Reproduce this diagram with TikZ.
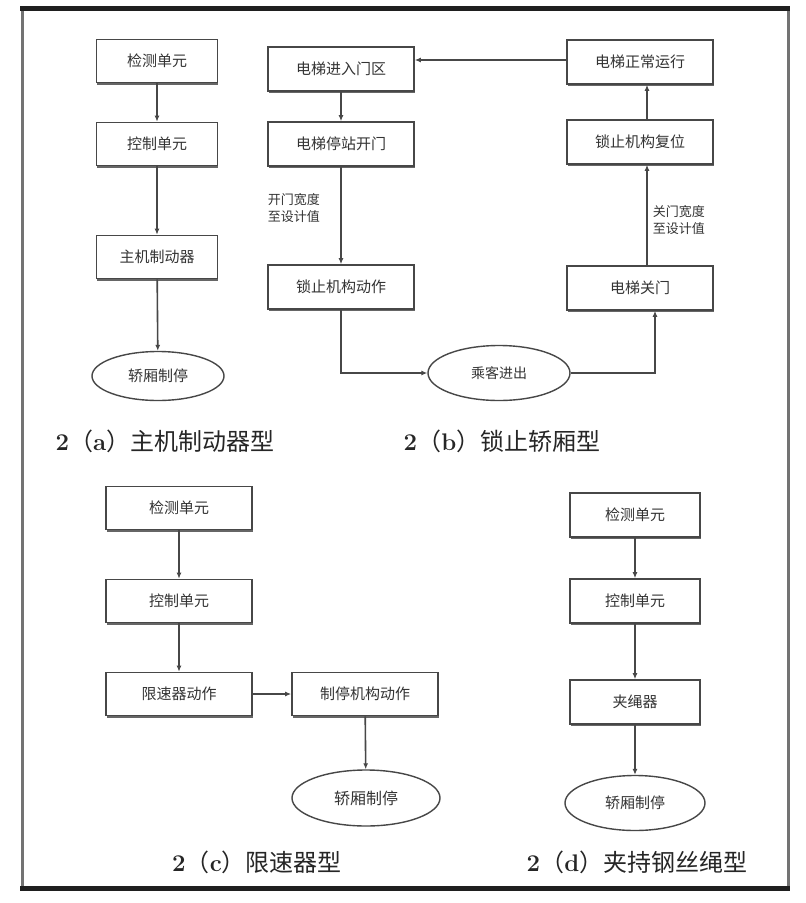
\documentclass[tikz,border=0pt]{standalone}
\usepackage{fontspec}
\newfontfamily\cjk{Noto Sans CJK SC}
\usetikzlibrary{arrows.meta,shapes.geometric,shadows}
\begin{document}
\begin{tikzpicture}[x=1pt,y=-1pt,
  lc/.style={draw=black!72},
  box/.style={rectangle,lc,line width=1.6pt,fill=white,inner sep=0pt,
    font=\cjk\fontsize{15}{15}\selectfont,text=black!80,
    drop shadow={shadow xshift=0.6pt,shadow yshift=-2.2pt,fill=black!60,opacity=1}},
  oval/.style={ellipse,lc,line width=1.4pt,fill=white,inner sep=0pt,
    font=\cjk\fontsize{15}{15}\selectfont,text=black!80},
  arr/.style={draw=black!72,line width=1.6pt,-{Latex[length=6pt,width=5pt]}},
  lbl/.style={font=\cjk\fontsize{13}{17}\selectfont,text=black!80,align=left,inner sep=0pt},
  captxt/.style={font=\cjk\fontsize{24}{24}\selectfont,text=black!85,inner sep=0pt}
]
\useasboundingbox (0,0) rectangle (806,903);
\fill[white] (0,0) rectangle (806,903);
% frame
\draw[black!55,line width=3pt] (22,8) -- (22,888);
\draw[black!55,line width=3pt] (788,8) -- (788,888);
\draw[black!88,line width=5pt] (20,8) -- (790,8);
\draw[black!88,line width=5pt] (20,888) -- (790,888);

% (a)
\begin{scope}[every node/.append style={minimum width=121pt,minimum height=43pt}]
\node[box] (a1) at (157,61) {检测单元};
\node[box] (a2) at (157,144) {控制单元};
\node[box] (a3) at (157,257) {主机制动器};
\end{scope}
\node[oval,minimum width=132pt,minimum height=49pt] (a4) at (158,376) {轿厢制停};
\draw[arr] (a1) -- (a2);
\draw[arr] (a2) -- (a3);
\draw[arr] (a3) -- (a4);
\node[captxt] (capa) at (165,441) {{\rmfamily\bfseries 2}（{\rmfamily\bfseries a}）主机制动器型};

% (b)
\begin{scope}[every node/.append style={minimum width=146pt,minimum height=44pt,font=\cjk\fontsize{14}{14}\selectfont}]
\node[box] (b1) at (341,69) {电梯进入门区};
\node[box] (b2) at (341,144) {电梯停站开门};
\node[box] (b3) at (341,287) {锁止机构动作};
\node[box] (b5) at (640,288) {电梯关门};
\node[box] (b6) at (640,142) {锁止机构复位};
\node[box] (b7) at (640,62) {电梯正常运行};
\end{scope}
\node[oval,minimum width=142pt,minimum height=55pt,font=\cjk\fontsize{14}{14}\selectfont] (b4) at (499,373) {乘客进出};
\coordinate (b7w) at ([yshift=2pt]b7.west);
\draw[arr] (b7w) -- (b7w -| b1.east);
\draw[arr] (b1) -- (b2);
\draw[arr] (b2) -- (b3) node[lbl,pos=0.42,anchor=west,xshift=-74pt] (lb1) {开门宽度\\至设计值};
\draw[arr] (b3.south) |- (b4.west);
\coordinate (b5in) at ([xshift=15pt]b5.south);
\draw[arr] (b4.east) -| (b5in);
\coordinate (b5out) at ([xshift=7pt]b5.north);
\draw[arr] (b5out) -- (b5out |- b6.south) node[lbl,pos=0.45,anchor=west,xshift=5pt] (lb2) {关门宽度\\至设计值};
\coordinate (b6out) at ([xshift=7pt]b6.north);
\draw[arr] (b6out) -- (b6out |- b7.south);
\node[captxt] (capb) at (502,441) {{\rmfamily\bfseries 2}（{\rmfamily\bfseries b}）锁止轿厢型};

% (c)
\begin{scope}[every node/.append style={minimum width=146pt,minimum height=43pt,font=\cjk\fontsize{17}{17}\selectfont}]
\node[box] (c1) at (179,508) {检测单元};
\node[box] (c2) at (179,601) {控制单元};
\node[box] (c3) at (179,694) {限速器动作};
\node[box] (c4) at (365,694) {制停机构动作};
\end{scope}
\node[oval,minimum width=148pt,minimum height=56pt,font=\cjk\fontsize{16}{16}\selectfont] (c5) at (366,798) {轿厢制停};
\draw[arr] (c1) -- (c2);
\draw[arr] (c2) -- (c3);
\draw[arr] (c3) -- (c4);
\draw[arr] (c4) -- (c5);
\node[captxt] (capc) at (257,862) {{\rmfamily\bfseries 2}（{\rmfamily\bfseries c}）限速器型};

% (d)
\begin{scope}[every node/.append style={minimum width=130pt,minimum height=44pt,font=\cjk\fontsize{16}{16}\selectfont}]
\node[box] (d1) at (635,515) {检测单元};
\node[box] (d2) at (635,601) {控制单元};
\node[box] (d3) at (635,702) {夹绳器};
\end{scope}
\node[oval,minimum width=140pt,minimum height=55pt,font=\cjk\fontsize{15}{15}\selectfont] (d4) at (635,803) {轿厢制停};
\draw[arr] (d1) -- (d2);
\draw[arr] (d2) -- (d3);
\draw[arr] (d3) -- (d4);
\node[captxt] (capd) at (637,862) {{\rmfamily\bfseries 2}（{\rmfamily\bfseries d}）夹持钢丝绳型};
\end{tikzpicture}
\end{document}
